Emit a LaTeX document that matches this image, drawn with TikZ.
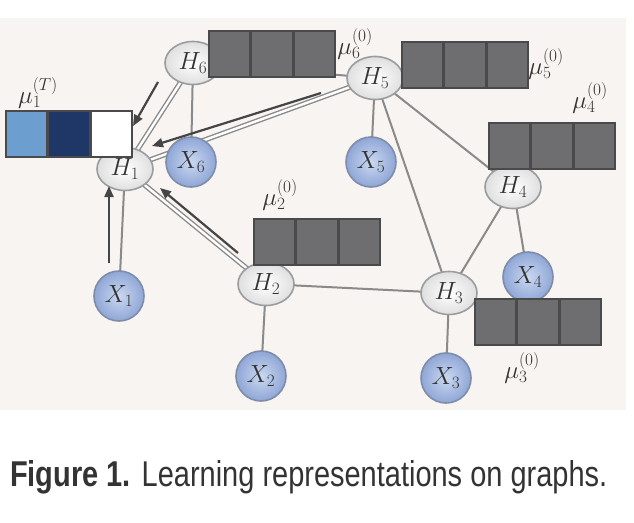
\documentclass[tikz,border=0pt]{standalone}
\usepackage{fontspec}
\usepackage{graphicx}
\setsansfont{Liberation Sans}
\usetikzlibrary{shapes.geometric,arrows.meta}
\pgfdeclarelayer{bg}
\pgfdeclarelayer{panellayer}
\pgfsetlayers{panellayer,bg,main}
\definecolor{panel}{HTML}{F8F4F1}
\definecolor{cellgray}{HTML}{6E6E70}
\definecolor{cellborder}{HTML}{4A4A4C}
\definecolor{lightblue}{HTML}{6D9ED0}
\definecolor{navy}{HTML}{1E3766}
\definecolor{edgegray}{HTML}{8A8A8A}
\definecolor{arrowgray}{HTML}{454545}
\definecolor{hborder}{HTML}{9A9CA0}
\definecolor{xborder}{HTML}{7F8CAA}
\definecolor{xinner}{HTML}{CAD8F0}
\definecolor{xouter}{HTML}{8FA6D6}
\definecolor{txt}{HTML}{333333}
\tikzset{
  hnode/.style={ellipse, draw=hborder, line width=1.6pt, inner color=white, outer color=gray!25,
     minimum width=56pt, minimum height=43pt, inner sep=0pt, font=\fontsize{25}{27}\selectfont, text=txt},
  xnode/.style={circle, draw=xborder, line width=1.6pt, inner color=xinner, outer color=xouter,
     minimum size=50pt, inner sep=0pt, font=\fontsize{26}{28}\selectfont, text=txt},
  edge/.style={draw=edgegray, line width=2pt},
  dedge/.style={draw=edgegray, line width=1.4pt, double=white, double distance=2.4pt},
  msg/.style={draw=arrowgray, line width=2.2pt, -{Triangle[length=11pt,width=9pt]}},
  cell/.style={draw=cellborder, line width=1.6pt, minimum width=41pt, minimum height=46pt, inner sep=0pt, fill=cellgray},
  mulab/.style={font=\fontsize{25}{27}\selectfont, text=txt, inner sep=0pt}
}
\begin{document}
\begin{tikzpicture}[x=1pt,y=-1pt]
\useasboundingbox (0,0) rectangle (634,522);
\begin{pgfonlayer}{panellayer}
\fill[white] (0,0) rectangle (634,522);
\fill[panel] (0,18) rectangle (626,410);
\end{pgfonlayer}

% nodes
\node[hnode] (H1) at (125,169) {$H_1$};
\node[hnode] (H2) at (266,284) {$H_2$};
\node[hnode] (H3) at (449,293) {$H_3$};
\node[hnode] (H4) at (513,187) {$H_4$};
\node[hnode] (H5) at (375,78) {$H_5$};
\node[hnode] (H6) at (193,63) {$H_6$};
\node[xnode] (X1) at (119,296) {$X_1$};
\node[xnode] (X2) at (261,376) {$X_2$};
\node[xnode] (X3) at (446,378) {$X_3$};
\node[xnode] (X4) at (528,277) {$X_4$};
\node[xnode] (X5) at (371,162) {$X_5$};
\node[xnode] (X6) at (191,162) {$X_6$};

% edges (behind nodes)
\begin{pgfonlayer}{bg}
\path[edge] (H6.center) -- (H5.center);
\path[edge] (H5.center) -- (H4.center);
\path[edge] (H5.center) -- (H3.center);
\path[edge] (H5.center) -- (X5.center);
\path[edge] (H6.center) -- (X6.center);
\path[edge] (H4.center) -- (H3.center);
\path[edge] (H4.center) -- (X4.center);
\path[edge] (H2.center) -- (H3.center);
\path[edge] (H2.center) -- (X2.center);
\path[edge] (H3.center) -- (X3.center);
\path[edge] (X1.center) -- (H1.center);
\path[dedge] (H1.center) -- (H6.center);
\path[dedge] (H1.center) -- (H5.center);
\path[dedge] (H1.center) -- (H2.center);
\end{pgfonlayer}

% feature boxes
\node[cell, fill=lightblue, anchor=north west] (m1a) at (5,110) {};
\node[cell, fill=navy, anchor=west] (m1b) at (m1a.east) {};
\node[cell, fill=white, anchor=west] (m1c) at (m1b.east) {};

\node[cell, anchor=north west] (m6a) at (208,30) {};
\node[cell, anchor=west] (m6b) at (m6a.east) {};
\node[cell, anchor=west] (m6c) at (m6b.east) {};

\node[cell, anchor=north west] (m5a) at (401,41) {};
\node[cell, anchor=west] (m5b) at (m5a.east) {};
\node[cell, anchor=west] (m5c) at (m5b.east) {};

\node[cell, anchor=north west] (m4a) at (488,122) {};
\node[cell, anchor=west] (m4b) at (m4a.east) {};
\node[cell, anchor=west] (m4c) at (m4b.east) {};

\node[cell, anchor=north west] (m2a) at (253,218) {};
\node[cell, anchor=west] (m2b) at (m2a.east) {};
\node[cell, anchor=west] (m2c) at (m2b.east) {};

\node[cell, anchor=north west] (m3a) at (474,298) {};
\node[cell, anchor=west] (m3b) at (m3a.east) {};
\node[cell, anchor=west] (m3c) at (m3b.east) {};

% labels
\node[mulab] (l1) at (38,93) {$\mu_1^{(T)}$};
\node[mulab] (l6) at (355,44) {$\mu_6^{(0)}$};
\node[mulab] (l5) at (546,64) {$\mu_5^{(0)}$};
\node[mulab] (l4) at (590,98) {$\mu_4^{(0)}$};
\node[mulab] (l2) at (280,195) {$\mu_2^{(0)}$};
\node[mulab] (l3) at (522,368) {$\mu_3^{(0)}$};

% messages
\coordinate (a1s) at (109,263);
\coordinate (a1e) at (109,186);
\coordinate (a2s) at (238,253);
\coordinate (a2e) at (160,188);
\coordinate (a3s) at (158,82);
\coordinate (a3e) at (133,126);
\coordinate (a4s) at (321,93);
\coordinate (a4e) at (152,146);
\draw[msg] (a1s) -- (a1e);
\draw[msg] (a2s) -- (a2e);
\draw[msg] (a3s) -- (a3e);
\draw[msg] (a4s) -- (a4e);

% caption
\node[anchor=base west, inner sep=0pt, text=txt] (cap) at (10,486)
  {\resizebox{597pt}{26pt}{\sffamily\textbf{Figure 1.} Learning representations on graphs.}};
\end{tikzpicture}
\end{document}
